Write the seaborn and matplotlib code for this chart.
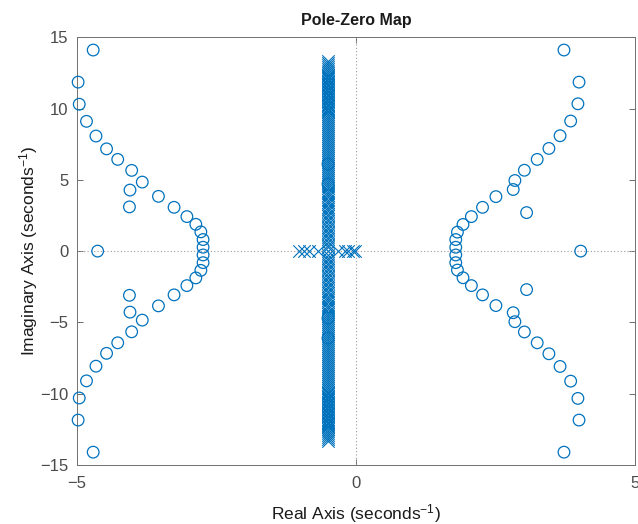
import numpy as np
import pandas as pd
import matplotlib
matplotlib.use("Agg")
import matplotlib.pyplot as plt
import seaborn as sns

# --- Zeros (upper half-plane; conjugates are added below) ---
zero_left_re = [-2.74, -2.74, -2.78, -2.87, -3.03, -3.26, -3.54, -3.83, -4.02, -4.27,
                -4.47, -4.66, -4.83, -4.96, -4.98, -4.71, -4.05, -4.06]
zero_left_im = [0.27, 0.81, 1.35, 1.88, 2.42, 3.07, 3.84, 4.84, 5.66, 6.43,
                7.17, 8.07, 9.10, 10.30, 11.85, 14.10, 4.28, 3.10]

zero_right_re = [1.79, 1.79, 1.82, 1.92, 2.07, 2.27, 2.51, 2.82, 2.85, 3.02,
                 3.25, 3.46, 3.66, 3.85, 3.98, 4.00, 3.73, 3.06]
zero_right_im = [0.27, 0.81, 1.33, 1.87, 2.42, 3.07, 3.82, 4.32, 4.95, 5.67,
                 6.43, 7.20, 8.09, 9.12, 10.33, 11.85, 14.10, 2.70]

zero_col_re = [-0.5, -0.5]
zero_col_im = [4.70, 6.10]

zero_real_axis = [-4.63, 4.03]

# --- Poles ---
pole_col_re = -0.5
pole_col_im = [13.35, 13.20, 13.05, 12.90, 12.75, 12.60, 12.48, 12.36,
               12.25, 12.15, 12.05, 11.95, 11.85, 11.75, 11.65, 11.55, 11.45,
               11.35, 11.25, 11.15, 11.05, 10.95, 10.85, 10.75, 10.65, 10.55,
               10.45, 10.35, 10.25, 10.15, 10.05, 9.95, 9.85, 9.75,
               9.62, 9.48, 9.34, 9.20, 9.06, 8.92, 8.78, 8.64, 8.50, 8.36,
               8.22, 8.08, 7.94, 7.80, 7.66, 7.52, 7.38, 7.24, 7.10, 6.96,
               6.82, 6.68, 6.54, 6.40, 6.26, 6.12, 5.98, 5.84, 5.70, 5.56,
               5.42, 5.28, 5.14, 5.00, 4.86, 4.72, 4.56, 4.40, 4.24, 4.08,
               3.92, 3.76, 3.60, 3.44, 3.28, 3.12, 2.96, 2.80, 2.62, 2.44,
               2.26, 2.08, 1.90, 1.72, 1.54, 1.36, 1.18, 1.00, 0.82, 0.64,
               0.46, 0.28]
pole_real_axis = [-1.02, -0.93, -0.84, -0.68, -0.50, -0.32, -0.20, -0.14, -0.06, -0.01]

x_ticks = [-5, 0, 5]
y_ticks = [-15, -10, -5, 0, 5, 10, 15]

# --- Assemble complex-conjugate sets ---
z_re = zero_left_re + zero_right_re + zero_col_re
z_im = zero_left_im + zero_right_im + zero_col_im
zeros = pd.DataFrame({
    "re": z_re + z_re + zero_real_axis,
    "im": z_im + [-v for v in z_im] + [0.0] * len(zero_real_axis),
})
poles = pd.DataFrame({
    "re": [pole_col_re] * (2 * len(pole_col_im)) + pole_real_axis,
    "im": pole_col_im + [-v for v in pole_col_im] + [0.0] * len(pole_real_axis),
})

sns.set_theme(style="white")
plt.rcParams["font.family"] = ["Liberation Sans", "DejaVu Sans"]
plt.rcParams["mathtext.fontset"] = "custom"
plt.rcParams["mathtext.rm"] = "Liberation Sans"

blue = "#0072BD"
fig = plt.figure(figsize=(6.38, 5.24), dpi=100)
ax = fig.add_axes([0.1207, 0.1126, 0.8743, 0.8164])

ax.axhline(0, color="#9a9a9a", linestyle=(0, (1, 2)), linewidth=0.8, zorder=1)
ax.axvline(0, color="#9a9a9a", linestyle=(0, (1, 2)), linewidth=0.8, zorder=1)

sns.scatterplot(data=poles, x="re", y="im", ax=ax, marker="x", s=80,
                color=blue, linewidth=0.8, zorder=3, clip_on=False)
sns.scatterplot(data=zeros, x="re", y="im", ax=ax, marker="o", s=70,
                facecolors="none", edgecolor=blue, linewidth=0.9, zorder=3,
                clip_on=False)

ax.set_xlim(-5, 5)
ax.set_ylim(-15, 15)
ax.set_xticks(x_ticks)
ax.set_yticks(y_ticks)
ax.tick_params(direction="in", length=4, width=0.6, colors="#555555",
               labelcolor="#4a4a4a", labelsize=12, top=True, right=True,
               bottom=True, left=True)
ax.tick_params(axis="x", pad=8)
ax.tick_params(axis="y", pad=6)
for s in ax.spines.values():
    s.set_color("#707070")
    s.set_linewidth(0.7)

ax.set_title("Pole-Zero Map", fontsize=11.5, fontweight="bold", color="#1a1a1a", pad=9)
ax.set_xlabel(r"Real Axis (seconds$\mathregular{^{-1}}$)", fontsize=12.5, color="#1a1a1a", labelpad=8)
ax.set_ylabel(r"Imaginary Axis (seconds$\mathregular{^{-1}}$)", fontsize=12.5, color="#1a1a1a", labelpad=0)

fig.savefig("out.png", dpi=100)
